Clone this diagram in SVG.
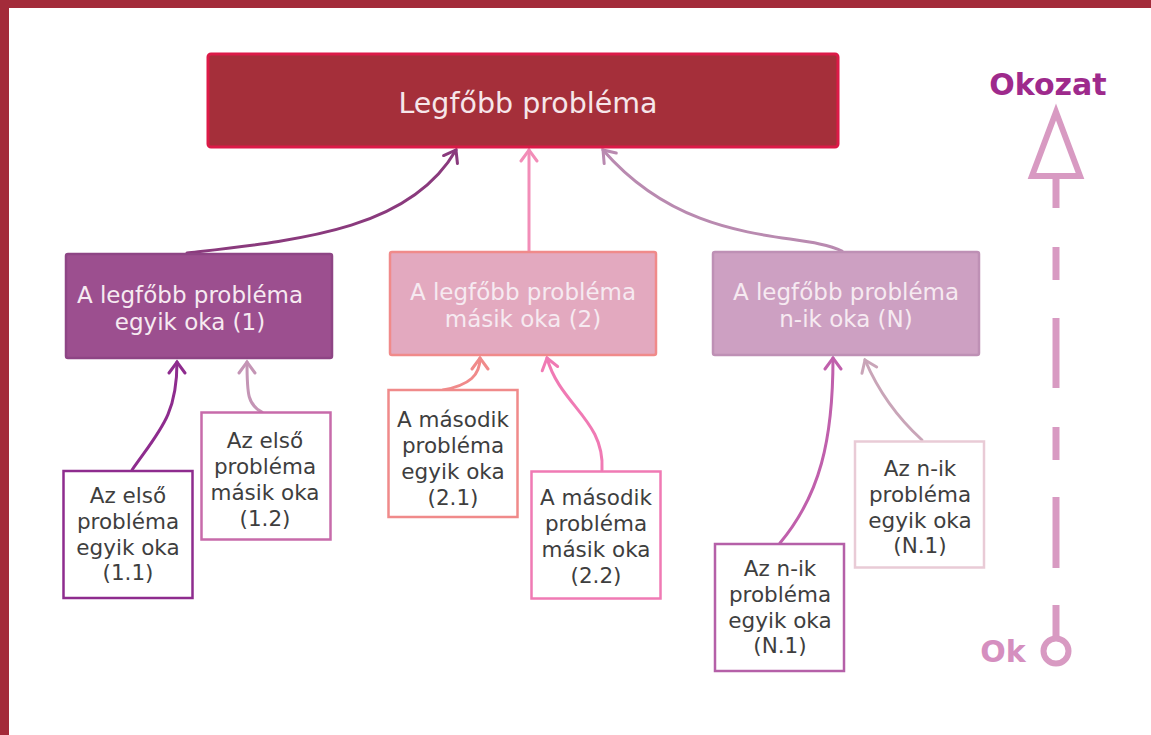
<svg xmlns="http://www.w3.org/2000/svg" width="1151" height="735" viewBox="0 0 1151 735">
<style>
.t{font-family:"DejaVu Sans","Liberation Sans",sans-serif;text-anchor:middle}
.big{font-size:23px;fill:#F6EAF1}
.small{font-size:21.5px;fill:#3E3E3E}
.box{stroke-width:2.5}
.sb{fill:#FFFFFF;stroke-width:2.5}
.c{fill:none;stroke-width:3;stroke-linecap:round}
.mk{fill:none;stroke-width:3;stroke-linecap:round;stroke-linejoin:miter}
.leg{stroke:#D89AC2;fill:none}
</style>
<defs>
<marker id="m1" viewBox="0 0 16 20" refX="13" refY="10" markerWidth="16" markerHeight="20" markerUnits="userSpaceOnUse" orient="auto"><path class="mk" d="M2,2 L13,10 L2,18" stroke="#8A3A7D"/></marker>
<marker id="m2" viewBox="0 0 16 20" refX="13" refY="10" markerWidth="16" markerHeight="20" markerUnits="userSpaceOnUse" orient="auto"><path class="mk" d="M2,2 L13,10 L2,18" stroke="#F28DB8"/></marker>
<marker id="m3" viewBox="0 0 16 20" refX="13" refY="10" markerWidth="16" markerHeight="20" markerUnits="userSpaceOnUse" orient="auto"><path class="mk" d="M2,2 L13,10 L2,18" stroke="#B98AB0"/></marker>
<marker id="m4" viewBox="0 0 16 20" refX="13" refY="10" markerWidth="16" markerHeight="20" markerUnits="userSpaceOnUse" orient="auto"><path class="mk" d="M2,2 L13,10 L2,18" stroke="#8E2C8E"/></marker>
<marker id="m5" viewBox="0 0 16 20" refX="13" refY="10" markerWidth="16" markerHeight="20" markerUnits="userSpaceOnUse" orient="auto"><path class="mk" d="M2,2 L13,10 L2,18" stroke="#C495B5"/></marker>
<marker id="m6" viewBox="0 0 16 20" refX="13" refY="10" markerWidth="16" markerHeight="20" markerUnits="userSpaceOnUse" orient="auto"><path class="mk" d="M2,2 L13,10 L2,18" stroke="#F08A8A"/></marker>
<marker id="m7" viewBox="0 0 16 20" refX="13" refY="10" markerWidth="16" markerHeight="20" markerUnits="userSpaceOnUse" orient="auto"><path class="mk" d="M2,2 L13,10 L2,18" stroke="#F07AB4"/></marker>
<marker id="m8" viewBox="0 0 16 20" refX="13" refY="10" markerWidth="16" markerHeight="20" markerUnits="userSpaceOnUse" orient="auto"><path class="mk" d="M2,2 L13,10 L2,18" stroke="#C060AC"/></marker>
<marker id="m9" viewBox="0 0 16 20" refX="13" refY="10" markerWidth="16" markerHeight="20" markerUnits="userSpaceOnUse" orient="auto"><path class="mk" d="M2,2 L13,10 L2,18" stroke="#C9A5B8"/></marker>
</defs>
<rect x="0" y="0" width="1151" height="735" fill="#FFFFFF"/>
<rect x="0" y="0" width="1151" height="8" fill="#A32B3A"/>
<rect x="0" y="0" width="9" height="735" fill="#A32B3A"/>

<g id="connectors">
<path class="c" stroke="#8A3A7D" d="M187,253 C300,240 410,230 456,150" marker-end="url(#m1)"/>
<path class="c" stroke="#F28DB8" d="M529,251 L529,150" marker-end="url(#m2)"/>
<path class="c" stroke="#B98AB0" d="M842,251 C800,230 690,250 603,150" marker-end="url(#m3)"/>
<path class="c" stroke="#8E2C8E" d="M132,470 C160,430 177,415 177,362" marker-end="url(#m4)"/>
<path class="c" stroke="#C495B5" d="M262,412 C248,405 247,395 247,362" marker-end="url(#m5)"/>
<path class="c" stroke="#F08A8A" d="M443,390 C470,385 480,375 480,358" marker-end="url(#m6)"/>
<path class="c" stroke="#F07AB4" d="M602,470 C605,420 560,405 547,358" marker-end="url(#m7)"/>
<path class="c" stroke="#C060AC" d="M780,543 C820,495 833,440 833,358" marker-end="url(#m8)"/>
<path class="c" stroke="#C9A5B8" d="M922,440 C900,420 880,395 865,360" marker-end="url(#m9)"/>
</g>

<g id="top">
<rect x="208" y="54" width="630" height="93" rx="3" fill="#A52F3A" stroke="#DC1A47" stroke-width="3"/>
<text class="t" x="528" y="113" font-size="28.5" fill="#F6E6EA">Legfőbb probléma</text>
</g>

<g id="cause1">
<rect class="box" x="66" y="254" width="266" height="104" rx="2" fill="#9C4F8F" stroke="#8E4585"/>
<text class="t big" x="190" y="303">A legfőbb probléma</text>
<text class="t big" x="190" y="330">egyik oka (1)</text>
</g>
<g id="cause2">
<rect class="box" x="390" y="252" width="266" height="103" rx="2" fill="#E3A9BF" stroke="#F08A8A"/>
<text class="t big" x="523" y="300">A legfőbb probléma</text>
<text class="t big" x="523" y="327">másik oka (2)</text>
</g>
<g id="causeN">
<rect class="box" x="713" y="252" width="266" height="103" rx="2" fill="#CDA0C2" stroke="#BE90B5"/>
<text class="t big" x="846" y="300">A legfőbb probléma</text>
<text class="t big" x="846" y="327">n-ik oka (N)</text>
</g>

<g id="c11">
<rect class="sb" x="63.5" y="471" width="129" height="127" stroke="#8E2C8E"/>
<text class="t small" x="128" y="503">Az első</text>
<text class="t small" x="128" y="529">probléma</text>
<text class="t small" x="128" y="555">egyik oka</text>
<text class="t small" x="128" y="580">(1.1)</text>
</g>
<g id="c12">
<rect class="sb" x="201.5" y="412.5" width="129" height="127" stroke="#C76BAA"/>
<text class="t small" x="265" y="448">Az első</text>
<text class="t small" x="265" y="474">probléma</text>
<text class="t small" x="265" y="500">másik oka</text>
<text class="t small" x="265" y="526">(1.2)</text>
</g>
<g id="c21">
<rect class="sb" x="388.5" y="390" width="129" height="127" stroke="#F08A8A"/>
<text class="t small" x="453" y="427">A második</text>
<text class="t small" x="453" y="453">probléma</text>
<text class="t small" x="453" y="479">egyik oka</text>
<text class="t small" x="453" y="505">(2.1)</text>
</g>
<g id="c22">
<rect class="sb" x="531.5" y="471.5" width="129" height="127" stroke="#F07AB4"/>
<text class="t small" x="596" y="505">A második</text>
<text class="t small" x="596" y="531">probléma</text>
<text class="t small" x="596" y="557">másik oka</text>
<text class="t small" x="596" y="583">(2.2)</text>
</g>
<g id="cN1a">
<rect class="sb" x="715" y="544" width="129" height="127" stroke="#B560A8"/>
<text class="t small" x="780" y="576">Az n-ik</text>
<text class="t small" x="780" y="602">probléma</text>
<text class="t small" x="780" y="628">egyik oka</text>
<text class="t small" x="780" y="653">(N.1)</text>
</g>
<g id="cN1b">
<rect class="sb" x="855" y="441.5" width="129" height="126" stroke="#E9CBD6"/>
<text class="t small" x="920" y="476">Az n-ik</text>
<text class="t small" x="920" y="502">probléma</text>
<text class="t small" x="920" y="528">egyik oka</text>
<text class="t small" x="920" y="553">(N.1)</text>
</g>

<g id="legend">
<text x="1048" y="95" font-family="DejaVu Sans, sans-serif" font-weight="bold" font-size="30" fill="#9E2A8C" text-anchor="middle">Okozat</text>
<polygon class="leg" points="1056,112 1032,176 1080,176" stroke-width="6" stroke-linejoin="miter"/>
<g class="leg" stroke-width="7">
<line x1="1056" y1="176" x2="1056" y2="208"/>
<line x1="1056" y1="247" x2="1056" y2="280"/>
<line x1="1056" y1="318" x2="1056" y2="388"/>
<line x1="1056" y1="427" x2="1056" y2="460"/>
<line x1="1056" y1="497" x2="1056" y2="568"/>
<line x1="1056" y1="605" x2="1056" y2="638"/>
</g>
<circle cx="1056" cy="651" r="12.5" fill="none" stroke="#D89AC2" stroke-width="6"/>
<text x="1003" y="662" font-family="DejaVu Sans, sans-serif" font-weight="bold" font-size="30" fill="#D58FBF" text-anchor="middle">Ok</text>
</g>
</svg>
